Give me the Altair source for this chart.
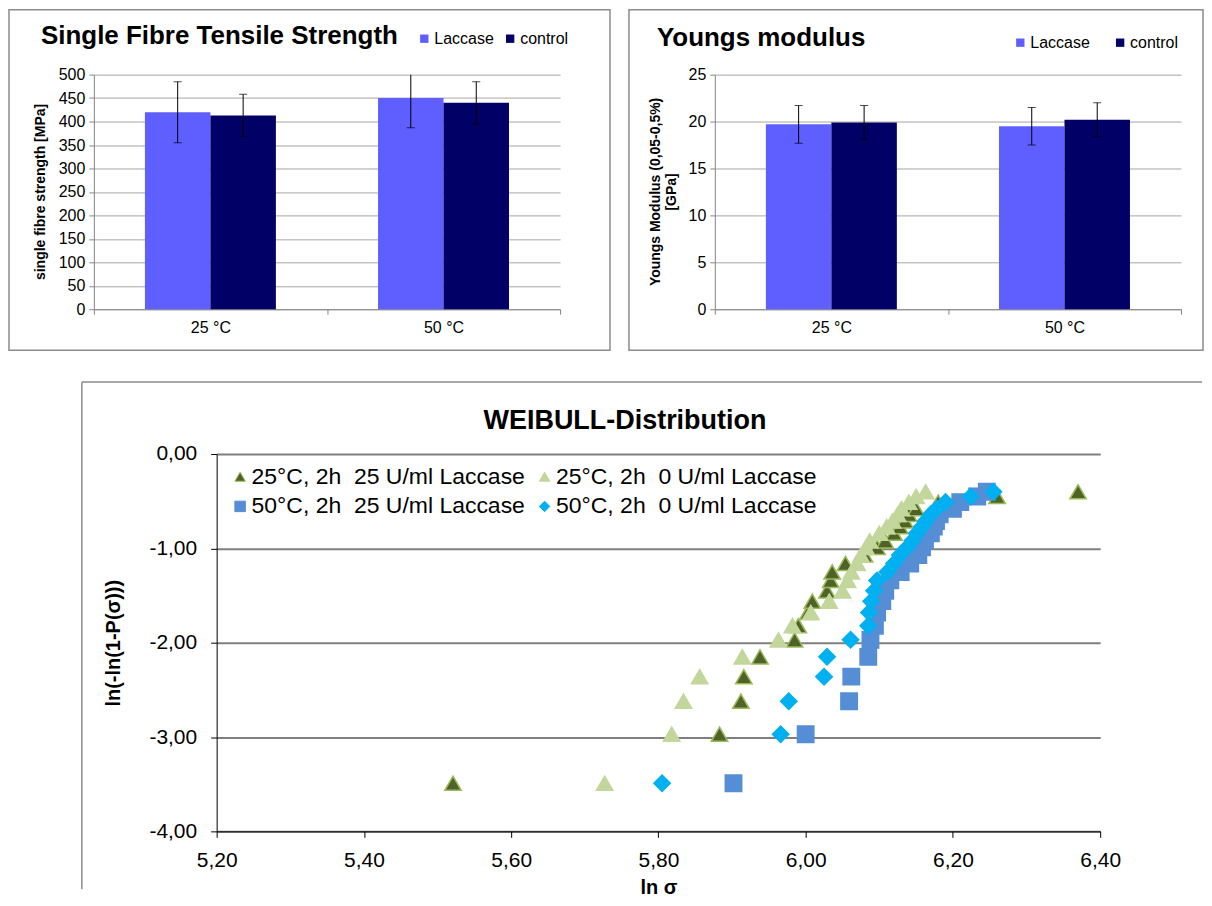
import altair as alt
import pandas as pd

FONT = "Liberation Sans"

# ---------------- data: bar charts ----------------
categories = ["25 °C", "50 °C"]
series = ["Laccase", "control"]
bar_colors = ["#5F5FFF", "#000066"]

tensile_laccase = [420, 450]
tensile_control = [413, 440]
tensile_laccase_err = [65, 63]
tensile_control_err = [45, 45]

young_laccase = [19.7, 19.5]
young_control = [19.9, 20.2]
young_laccase_err = [2.0, 2.0]
young_control_err = [1.8, 1.8]

tensile_ticks = [0, 50, 100, 150, 200, 250, 300, 350, 400, 450, 500]
young_ticks = [0, 5, 10, 15, 20, 25]

# ---------------- data: Weibull ----------------
weibull_series = [
    "25°C, 2h\u00a0 25 U/ml Laccase",
    "25°C, 2h\u00a0 0 U/ml Laccase",
    "50°C, 2h\u00a0 25 U/ml Laccase",
    "50°C, 2h\u00a0 0 U/ml Laccase",
]
weibull_y = [-3.49, -2.97, -2.62, -2.36, -2.15, -1.97, -1.82, -1.68, -1.56, -1.45,
             -1.34, -1.25, -1.16, -1.07, -0.99, -0.92, -0.84, -0.77, -0.71, -0.64,
             -0.58, -0.51, -0.45, -0.40]
x_25_lac = [5.521, 5.883, 5.912, 5.916, 5.938, 5.985, 5.990, 6.003, 6.009, 6.029,
            6.034, 6.036, 6.054, 6.080, 6.097, 6.108, 6.120, 6.128, 6.135, 6.140,
            6.150, 6.180, 6.260, 6.370]
x_25_ctrl = [5.727, 5.818, 5.834, 5.856, 5.914, 5.963, 5.982, 6.007, 6.032, 6.050,
             6.057, 6.062, 6.070, 6.075, 6.082, 6.087, 6.100, 6.110, 6.118, 6.125,
             6.130, 6.140, 6.150, 6.163]
x_50_lac = [5.902, 6.000, 6.059, 6.062, 6.085, 6.088, 6.094, 6.097, 6.104, 6.108,
            6.115, 6.129, 6.142, 6.153, 6.158, 6.162, 6.170, 6.174, 6.177, 6.182,
            6.200, 6.210, 6.233, 6.246]
x_50_ctrl = [5.805, 5.966, 5.977, 6.025, 6.029, 6.061, 6.085, 6.086, 6.089, 6.093,
             6.097, 6.111, 6.120, 6.128, 6.138, 6.145, 6.151, 6.158, 6.163, 6.170,
             6.178, 6.190, 6.224, 6.255]
weibull_x_ticks = [5.2, 5.4, 5.6, 5.8, 6.0, 6.2, 6.4]
weibull_y_ticks = [-4, -3, -2, -1, 0]
weibull_fill = ["#4F6228", "#C3D69B", "#558ED5", "#00B0F0"]
weibull_stroke = ["#9BBB59", "#C3D69B", "#558ED5", "#00B0F0"]
weibull_shape = ["triangle-up", "triangle-up", "square", "diamond"]


def text_layer(txt, x, y, size, weight="bold", align="left"):
    return alt.Chart(pd.DataFrame({"t": [txt]})).mark_text(
        align=align, baseline="alphabetic", fontSize=size, fontWeight=weight,
        font=FONT, color="black"
    ).encode(text="t:N", x=alt.value(x), y=alt.value(y))


def box(x1, x2, y1, y2):
    return alt.Chart(pd.DataFrame({"b": [0]})).mark_rect(
        fillOpacity=0, stroke="#8C8C8C", strokeWidth=1.5
    ).encode(x=alt.value(x1), x2=alt.value(x2), y=alt.value(y1), y2=alt.value(y2))


def bar_panel(lac, ctrl, lac_err, ctrl_err, ymax, ticks, title, ytitle,
              title_x, title_y, title_size, leg_x, leg_y, leg_pad, ytitle_x, border):
    rows = []
    for i, c in enumerate(categories):
        rows.append(dict(cat=c, series="Laccase", v=lac[i],
                         lo=lac[i] - lac_err[i], hi=lac[i] + lac_err[i]))
        rows.append(dict(cat=c, series="control", v=ctrl[i],
                         lo=ctrl[i] - ctrl_err[i], hi=ctrl[i] + ctrl_err[i]))
    df = pd.DataFrame(rows)
    x = alt.X("cat:N", sort=categories,
              scale=alt.Scale(paddingInner=0, paddingOuter=0),
              axis=alt.Axis(title=None, labelAngle=0, tickBand="extent",
                            domainColor="#868686", tickColor="#868686", tickSize=5,
                            labelFontSize=16, labelColor="black", labelPadding=5,
                            labelFont=FONT))
    xoff = alt.XOffset("series:N", sort=series,
                       scale=alt.Scale(domain=series, paddingInner=0, paddingOuter=0.78))

    def yenc(field):
        return alt.Y(field, type="quantitative",
                     scale=alt.Scale(domain=[0, ymax], nice=False, zero=True),
                     axis=alt.Axis(values=ticks, title=ytitle, grid=True,
                                   gridColor="#A6A6A6", domainColor="#868686",
                                   tickColor="#868686", tickSize=5,
                                   labelFontSize=16, labelColor="black",
                                   labelPadding=4, labelFont=FONT,
                                   titleFontSize=14, titleFontWeight="bold",
                                   titleFont=FONT, titleColor="black",
                                   titleX=ytitle_x, titleY=117,
                                   titleAlign="center", titleBaseline="middle",
                                   titleLineHeight=16))

    base = alt.Chart(df)
    bars = base.mark_bar().encode(
        x=x, xOffset=xoff, y=yenc("v"),
        color=alt.Color("series:N", sort=series,
                        scale=alt.Scale(domain=series, range=bar_colors),
                        legend=alt.Legend(title=None, orient="none", direction="horizontal",
                                          legendX=leg_x, legendY=leg_y,
                                          symbolType="square", symbolSize=70,
                                          symbolStrokeWidth=0,
                                          labelFontSize=16, labelFont=FONT,
                                          labelColor="black", labelOffset=2,
                                          columnPadding=leg_pad))
    )
    err = base.mark_rule(clip=True, color="black", strokeWidth=1).encode(
        x=x, xOffset=xoff, y=yenc("lo"), y2="hi:Q")
    cap_hi = base.mark_tick(clip=True, orient="horizontal", size=8, thickness=1,
                            color="black").encode(x=x, xOffset=xoff, y=yenc("hi"))
    cap_lo = base.mark_tick(clip=True, orient="horizontal", size=8, thickness=1,
                            color="black").encode(x=x, xOffset=xoff, y=yenc("lo"))
    return alt.layer(
        box(*border), bars, err, cap_hi, cap_lo,
        text_layer(title, title_x, title_y, title_size),
    ).properties(width=467, height=235)


panel_a = bar_panel(tensile_laccase, tensile_control, tensile_laccase_err,
                    tensile_control_err, 500, tensile_ticks,
                    "Single Fibre Tensile Strength", "single fibre strength [MPa]",
                    -53, -31, 26, 323, -44, 8, -53, (-85, 517, -65, 276))
panel_b = bar_panel(young_laccase, young_control, young_laccase_err,
                    young_control_err, 25, young_ticks,
                    "Youngs modulus", ["Youngs Modulus (0,05-0,5%)", "[GPa]"],
                    -58, -29, 26, 298, -40, 22, -59, (-86, 489, -65, 276))

# ---------------- Weibull panel ----------------
wrows = []
for k, (name, xs) in enumerate(zip(weibull_series, [x_25_lac, x_25_ctrl, x_50_lac, x_50_ctrl])):
    for xv, yv in zip(xs, weibull_y):
        wrows.append(dict(group=name, lns=xv, y=yv, k=k))
wdf = pd.DataFrame(wrows)

label_expr = "(datum.value < 0 ? '-' : '') + replace(format(abs(datum.value), '.2f'), '.', ',')"

points = alt.Chart(wdf).mark_point(filled=True, size=270, strokeWidth=1.5, opacity=1).encode(
    x=alt.X("lns:Q", scale=alt.Scale(domain=[5.2, 6.4], nice=False, zero=False),
            axis=alt.Axis(values=weibull_x_ticks, title="ln σ", grid=False,
                          labelExpr=label_expr, labelFlush=False,
                          domainColor="black", tickColor="black",
                          tickSize=6, labelFontSize=21, labelColor="black",
                          labelPadding=12, labelFont=FONT, titleFont=FONT,
                          titleFontSize=20, titleFontWeight="bold", titleColor="black",
                          titlePadding=7)),
    y=alt.Y("y:Q", scale=alt.Scale(domain=[-4, 0], nice=False, zero=False),
            axis=alt.Axis(values=weibull_y_ticks, title="ln(-ln(1-P(σ)))", grid=True,
                          gridColor="#7F7F7F", gridWidth=2, labelExpr=label_expr,
                          domainColor="black", tickColor="black", tickSize=6,
                          labelFontSize=21, labelColor="black", labelPadding=14,
                          labelFont=FONT, titleFont=FONT, titleFontSize=20,
                          titleFontWeight="bold", titleColor="black",
                          titleX=-103, titleY=189, titleAlign="center",
                          titleBaseline="middle")),
    color=alt.Color("group:N", sort=weibull_series,
                    scale=alt.Scale(domain=weibull_series, range=weibull_fill),
                    legend=alt.Legend(title=None, orient="none", legendX=12, legendY=11,
                                      columns=2, direction="horizontal",
                                      columnPadding=8, rowPadding=6,
                                      symbolSize=110, labelFontSize=23, labelFont=FONT,
                                      labelColor="black", labelOffset=0, labelLimit=0,
                                      symbolStrokeWidth=1)),
    shape=alt.Shape("group:N", sort=weibull_series,
                    scale=alt.Scale(domain=weibull_series, range=weibull_shape)),
    stroke=alt.Stroke("group:N", sort=weibull_series,
                      scale=alt.Scale(domain=weibull_series, range=weibull_stroke)),
    order=alt.Order("k:Q"),
)

frame_top = alt.Chart(pd.DataFrame({"b": [0]})).mark_rule(
    stroke="#8C8C8C", strokeWidth=1.5).encode(
    x=alt.value(-135), x2=alt.value(987), y=alt.value(-72))
frame_left = alt.Chart(pd.DataFrame({"b": [0]})).mark_rule(
    stroke="#8C8C8C", strokeWidth=1.5).encode(
    x=alt.value(-135), y=alt.value(-72), y2=alt.value(436))

panel_c = alt.layer(
    frame_top, frame_left, points,
    text_layer("WEIBULL-Distribution", 409, -25, 27, align="center"),
).properties(width=885, height=378)

# a 1px blank cell that shifts the Weibull panel to the right of the bar charts
spacer = alt.Chart(pd.DataFrame({"b": [0]})).mark_rule(stroke="white", strokeWidth=1).encode(
    x=alt.value(0), x2=alt.value(1), y=alt.value(0)
).properties(width=1, height=1)

bottom = alt.hconcat(spacer, panel_c, spacing=-15).resolve_scale(
    color="independent", shape="independent", stroke="independent")
top = alt.hconcat(panel_a, panel_b, spacing=17).resolve_scale(color="independent")
chart = alt.vconcat(top, bottom, spacing=30).resolve_scale(
    color="independent", shape="independent", stroke="independent"
).properties(padding=0).configure(font=FONT).configure_view(stroke=None)

chart.save("out.html", embed_options={"renderer": "svg", "actions": False})
